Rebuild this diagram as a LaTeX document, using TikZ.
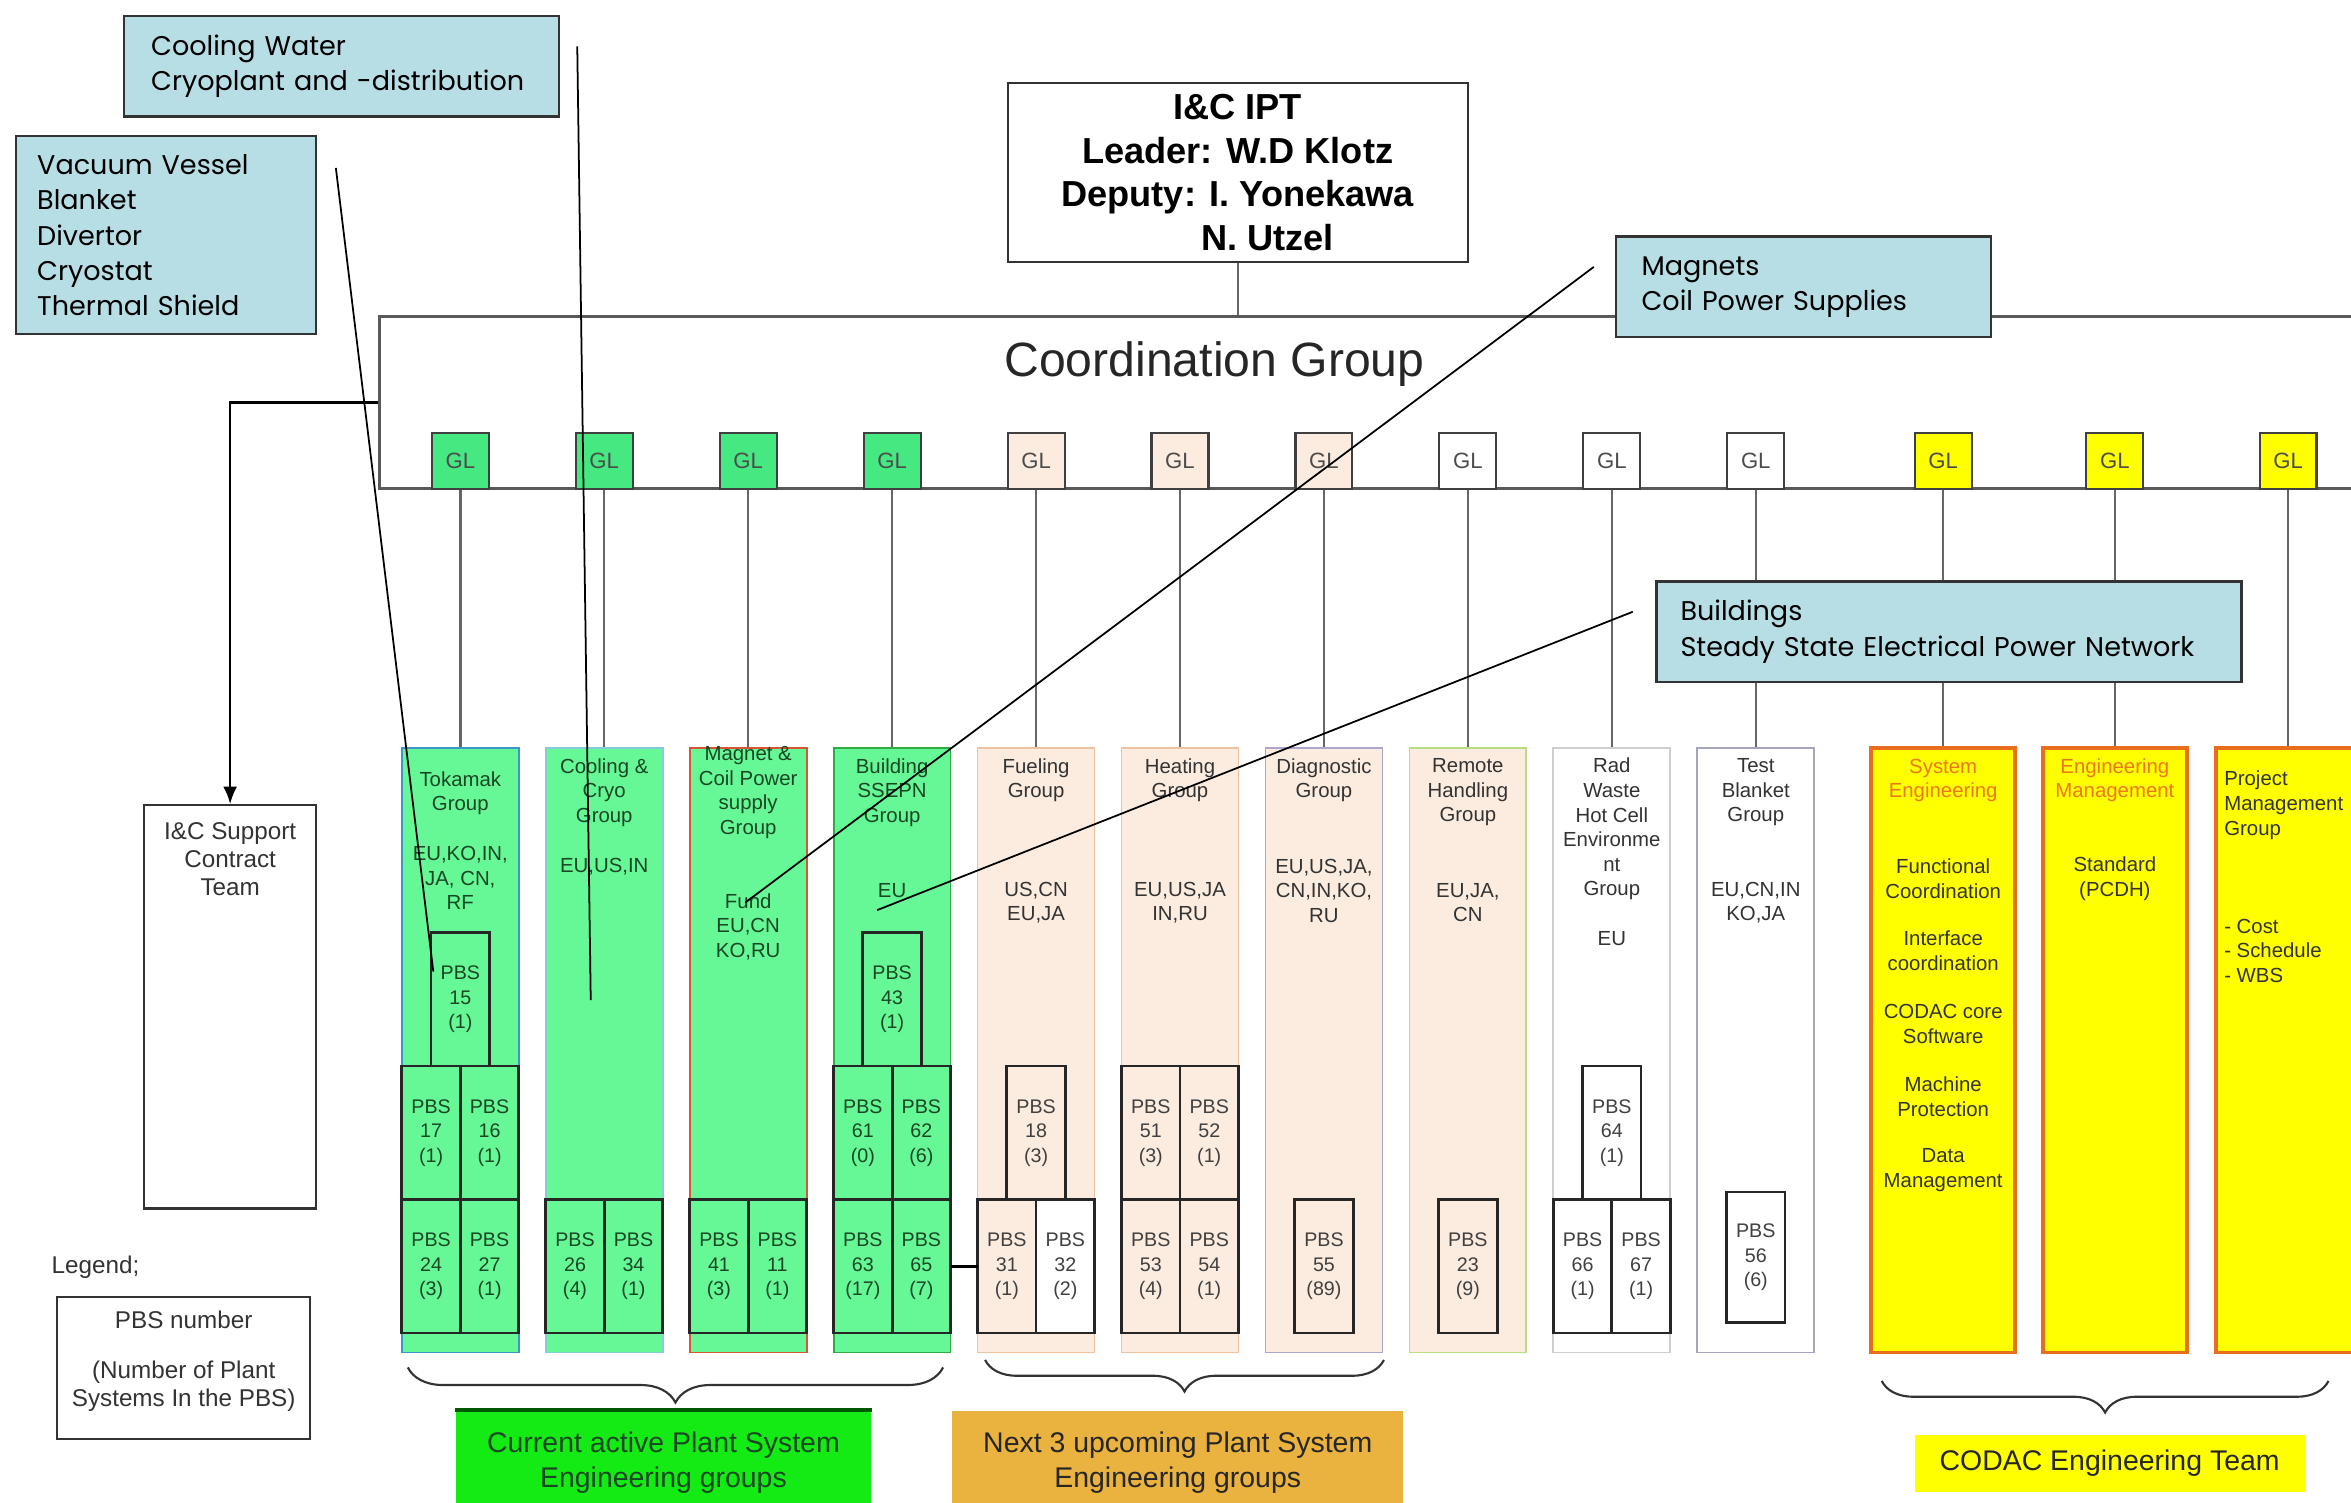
\documentclass[tikz,border=0pt]{standalone}
\usepackage{fontspec}
\setmainfont{Liberation Sans}
\newfontfamily\gothic{Poppins}
\usetikzlibrary{arrows.meta,positioning,fit,decorations.pathreplacing}

\definecolor{grn}{RGB}{102,248,150}
\definecolor{glgrn}{RGB}{70,232,130}
\definecolor{peach}{RGB}{252,236,224}
\definecolor{noteblue}{RGB}{183,222,228}
\definecolor{yel}{RGB}{255,255,0}
\definecolor{lblgrn}{RGB}{20,235,20}
\definecolor{lblorg}{RGB}{234,178,62}
\definecolor{orgbd}{RGB}{232,110,30}
\definecolor{sysorg}{RGB}{236,120,30}
\definecolor{gtxt}{RGB}{25,70,35}
\definecolor{tokbd}{RGB}{60,150,200}
\definecolor{coolbd}{RGB}{130,205,215}
\definecolor{magbd}{RGB}{215,85,50}
\definecolor{bldbd}{RGB}{50,170,70}
\definecolor{fuelbd}{RGB}{240,195,160}
\definecolor{diagbd}{RGB}{175,165,205}
\definecolor{rembd}{RGB}{185,220,130}
\definecolor{radbd}{RGB}{205,205,210}
\definecolor{testbd}{RGB}{165,165,190}

\newcommand\colfont{\fontsize{5.8}{7}\selectfont}
\newcommand\pbsfont{\fontsize{5.6}{7}\selectfont}
\newcommand\smallfont{\fontsize{6.9}{8.1}\selectfont}

\begin{document}
\begin{tikzpicture}[
  x=0.015cm, y=-0.015cm,
  font=\colfont,
  col/.style={draw, line width=0.5pt, minimum width=1.17cm, minimum height=6.045cm, inner sep=0pt},
  wide/.style={col, minimum width=1.44cm, draw=orgbd, line width=1pt, fill=yel},
  pbs/.style={draw=black!85, line width=0.8pt, outer sep=0pt, minimum width=0.585cm, minimum height=1.335cm, inner sep=0pt, align=center, font=\pbsfont, text=black!75},
  pbsg/.style={pbs, fill=grn, text=gtxt},
  pbsp/.style={pbs, fill=peach},
  pbsw/.style={pbs, fill=white},
  gl/.style={draw=black!75, line width=0.6pt, minimum width=0.57cm, minimum height=0.555cm, inner sep=0pt, font=\fontsize{6.3}{7}\selectfont, text=black!70},
  txt/.style={align=center, inner sep=0pt, text=black!80},
  gt/.style={txt, text=gtxt},
  link/.style={draw=black!60, line width=0.7pt},
  ptr/.style={draw=black, line width=0.5pt},
  note/.style={draw=black!80, line width=0.7pt, fill=noteblue, align=left, anchor=north west, font=\gothic\fontsize{7.7}{10}\selectfont},
  arr/.style={-{Latex[length=5pt,width=4pt]}, line width=0.7pt},
  brc/.style={decorate, decoration={brace, mirror, amplitude=#1}, line width=0.6pt, draw=black!80},
  lbl/.style={inner sep=0pt, align=center, font=\fontsize{8.1}{10.2}\selectfont},
]
\useasboundingbox (0,0) rectangle (1568,1002);
\clip (0,0) rectangle (1568,1002);
\fill[white] (0,0) rectangle (1568,1002);

% leader and coordination group
\node[draw=black!80, line width=0.6pt, minimum width=4.605cm, minimum height=1.71cm, align=center,
  font=\bfseries\fontsize{10.3}{12.4}\selectfont] (ipt) at (825.5,115)
  {I\&C IPT\\Leader: W.D Klotz\\Deputy: I. Yonekawa\\\hspace*{17pt}N. Utzel};
\node[draw=black!65, line width=0.9pt, fit={(253,211) (1600,326)}, inner sep=0pt] (cg) {};
\node[font=\fontsize{13.7}{16}\selectfont, text=black!85] (cgt) at (810,243) {Coordination Group};
\draw[link] (ipt) -- (ipt |- cg.north);

% support team and legend
\node[draw=black!80, line width=0.6pt, minimum width=1.725cm, minimum height=4.035cm] (sup) at (153.5,671.5) {};
\node[txt, font=\smallfont] (supt) at (153.5,573) {I\&C Support\\Contract\\Team};
\draw[arr] (cg.west) -| (sup.north);
\node[txt, font=\smallfont, anchor=west] (legt) at (34,845) {Legend;};
\node[draw=black!80, line width=0.6pt, fit={(38,865) (207,960)}, inner sep=0pt] (leg) {};
\node[txt, font=\smallfont] (leg1) at (122.5,880) {PBS number};
\node[txt, font=\smallfont] (leg2) at (122.5,924.5) {(Number of Plant\\Systems In the PBS)};

% columns
\node[col, fill=grn, draw=tokbd] (c1) at (307,700.5) {};
\node[col, fill=grn, draw=coolbd] (c2) at (403,700.5) {};
\node[col, fill=grn, draw=magbd] (c3) at (499,700.5) {};
\node[col, fill=grn, draw=bldbd] (c4) at (595,700.5) {};
\node[col, fill=peach, draw=fuelbd] (c5) at (691,700.5) {};
\node[col, fill=peach, draw=fuelbd] (c6) at (787,700.5) {};
\node[col, fill=peach, draw=diagbd] (c7) at (883,700.5) {};
\node[col, fill=peach, draw=rembd] (c8) at (979,700.5) {};
\node[col, fill=white, draw=radbd] (c9) at (1075,700.5) {};
\node[col, fill=white, draw=testbd] (c10) at (1171,700.5) {};
\node[wide] (c11) at (1296,700.5) {};
\node[wide] (c12) at (1410.5,700.5) {};
\node[wide] (c13) at (1526,700.5) {};

% group leaders
\foreach \i/\x/\c in {1/307/glgrn,2/403/glgrn,3/499/glgrn,4/595/glgrn,5/691/peach,6/787/peach,7/883/peach,
    8/979/white,9/1075/white,10/1171/white,11/1296/yel,12/1410.5/yel,13/1526/yel}
  \node[gl, fill=\c] (g\i) at (\x,307.5) {GL};
\foreach \i in {1,...,13}
  \draw[link] (g\i) -- (c\i);

% column texts
\node[gt] (t1h) at (307,529) {Tokamak\\Group};
\node[gt] (t1m) at (307,585.5) {EU,KO,IN,\\JA, CN,\\RF};
\node[gt] (t2h) at (403,528.5) {Cooling \&\\Cryo\\Group};
\node[gt] (t2m) at (403,578) {EU,US,IN};
\node[gt] (t3h) at (499,528.5) {Magnet \&\\Coil Power\\supply\\Group};
\node[gt] (t3m) at (499,618) {Fund\\EU,CN\\KO,RU};
\node[gt] (t4h) at (595,528.5) {Building\\SSEPN\\Group};
\node[gt] (t4m) at (595,594) {EU};
\node[txt] (t5h) at (691,520.5) {Fueling\\Group};
\node[txt] (t5m) at (691,602) {US,CN\\EU,JA};
\node[txt] (t6h) at (787,520.5) {Heating\\Group};
\node[txt] (t6m) at (787,602) {EU,US,JA\\IN,RU};
\node[txt] (t7h) at (883,520.5) {Diagnostic\\Group};
\node[txt] (t7m) at (883,594) {EU,US,JA,\\CN,IN,KO,\\RU};
\node[txt] (t8h) at (979,528.5) {Remote\\Handling\\Group};
\node[txt] (t8m) at (979,602) {EU,JA,\\CN};
\node[txt] (t9h) at (1075,553) {Rad\\Waste\\Hot Cell\\Environme\\nt\\Group};
\node[txt] (t9m) at (1075,626) {EU};
\node[txt] (t10h) at (1171,528.5) {Test\\Blanket\\Group};
\node[txt] (t10m) at (1171,602) {EU,CN,IN\\KO,JA};
\node[txt, text=sysorg] (t11h) at (1296,520.5) {System\\Engineering};
\node[txt] (t11a) at (1296,586) {Functional\\Coordination};
\node[txt] (t11b) at (1296,634) {Interface\\coordination};
\node[txt] (t11c) at (1296,683) {CODAC core\\Software};
\node[txt] (t11d) at (1296,731.5) {Machine\\Protection};
\node[txt] (t11e) at (1296,780.5) {Data\\Management};
\node[txt, text=sysorg] (t12h) at (1410.5,520.5) {Engineering\\Management};
\node[txt] (t12m) at (1410.5,586) {Standard\\(PCDH)};
\node[txt, align=left, anchor=west] (t13h) at (1483,537) {Project\\Management\\Group};
\node[txt, align=left, anchor=west] (t13m) at (1483,634) {- Cost\\- Schedule\\- WBS};

% PBS boxes
\node[pbsg] (p24) at (287.5,844.5) {PBS\\24\\(3)};
\node[pbsg, right=0pt of p24] (p27) {PBS\\27\\(1)};
\node[pbsg, above=0pt of p24] (p17) {PBS\\17\\(1)};
\node[pbsg, above=0pt of p27] (p16) {PBS\\16\\(1)};
\node[pbsg, above=0pt of p17.north east] (p15) {PBS\\15\\(1)};
\node[pbsg] (p26) at (383.5,844.5) {PBS\\26\\(4)};
\node[pbsg, right=0pt of p26] (p34) {PBS\\34\\(1)};
\node[pbsg] (p41) at (479.5,844.5) {PBS\\41\\(3)};
\node[pbsg, right=0pt of p41] (p11) {PBS\\11\\(1)};
\node[pbsg] (p63) at (575.5,844.5) {PBS\\63\\(17)};
\node[pbsg, right=0pt of p63] (p65) {PBS\\65\\(7)};
\node[pbsg, above=0pt of p63] (p61) {PBS\\61\\(0)};
\node[pbsg, above=0pt of p65] (p62) {PBS\\62\\(6)};
\node[pbsg, above=0pt of p61.north east] (p43) {PBS\\43\\(1)};
\node[pbsp] (p31) at (671.5,844.5) {PBS\\31\\(1)};
\node[pbsw, right=0pt of p31] (p32) {PBS\\32\\(2)};
\node[pbsp, above=0pt of p31.north east] (p18) {PBS\\18\\(3)};
\node[pbsp] (p53) at (767.5,844.5) {PBS\\53\\(4)};
\node[pbsp, right=0pt of p53] (p54) {PBS\\54\\(1)};
\node[pbsp, above=0pt of p53] (p51) {PBS\\51\\(3)};
\node[pbsp, above=0pt of p54] (p52) {PBS\\52\\(1)};
\node[pbsp] (p55) at (883,844.5) {PBS\\55\\(89)};
\node[pbsp] (p23) at (979,844.5) {PBS\\23\\(9)};
\node[pbsw] (p66) at (1055.5,844.5) {PBS\\66\\(1)};
\node[pbsw, right=0pt of p66] (p67) {PBS\\67\\(1)};
\node[pbsw, above=0pt of p66.north east] (p64) {PBS\\64\\(1)};
\node[pbsw, minimum height=1.305cm] (p56) at (1171,838.5) {PBS\\56\\(6)};
\draw[line width=0.8pt] (p65.east) -- (p31.west);

% braces and team labels
\coordinate (b1a) at (272,912);
\coordinate (b1b) at (629,912);
\coordinate (b2a) at (657,907);
\coordinate (b2b) at (923,907);
\coordinate (b3a) at (1255,921);
\coordinate (b3b) at (1553,921);
\draw[brc=10pt] (b1a) -- (b1b);
\draw[brc=9pt] (b2a) -- (b2b);
\draw[brc=9pt] (b3a) -- (b3b);
\node[lbl, fill=lblgrn, text=gtxt, minimum width=4.155cm, minimum height=1.035cm] (lg) at (442.5,975.5)
  {Current active Plant System\\Engineering groups};
\draw[line width=1pt, green!35!black] (lg.north west) -- (lg.north east);
\node[lbl, fill=lblorg, text=black!85, minimum width=4.515cm, minimum height=1.035cm] (lo) at (785.5,975.5)
  {Next 3 upcoming Plant System\\Engineering groups};
\node[lbl, fill=yel, text=black!85, minimum width=3.9cm, minimum height=0.57cm] (ly) at (1407,976)
  {CODAC Engineering Team};

% pointer lines
\coordinate (vac0) at (224,112);
\coordinate (vac1) at (289,648);
\coordinate (cw0) at (385,31);
\coordinate (cw1) at (394,667);
\coordinate (mg0) at (1063,178);
\coordinate (mg1) at (497,602);
\coordinate (bd0) at (1089,408);
\coordinate (bd1) at (585,607);
\draw[ptr] (vac0) -- (vac1);
\draw[ptr] (cw0) -- (cw1);
\draw[ptr] (mg0) -- (mg1);
\draw[ptr] (bd0) -- (bd1);

% system notes
\node[note, text width=3.81cm, inner xsep=0.27cm, minimum height=1.005cm] (cw) at (82,10)
  {Cooling Water\\\mbox{Cryoplant and -distribution}};
\node[note, text width=2.58cm, inner xsep=0.21cm, minimum height=1.98cm] (vac) at (10,90)
  {Vacuum Vessel\\Blanket\\Divertor\\Cryostat\\Thermal Shield};
\node[note, text width=3.24cm, inner xsep=0.255cm, minimum height=1.005cm] (mg) at (1077,157)
  {Magnets\\\mbox{Coil Power Supplies}};
\node[note, text width=5.37cm, inner xsep=0.24cm, minimum height=1.005cm] (bd) at (1104,387)
  {Buildings\\\mbox{Steady State Electrical Power Network}};
\end{tikzpicture}
\end{document}
